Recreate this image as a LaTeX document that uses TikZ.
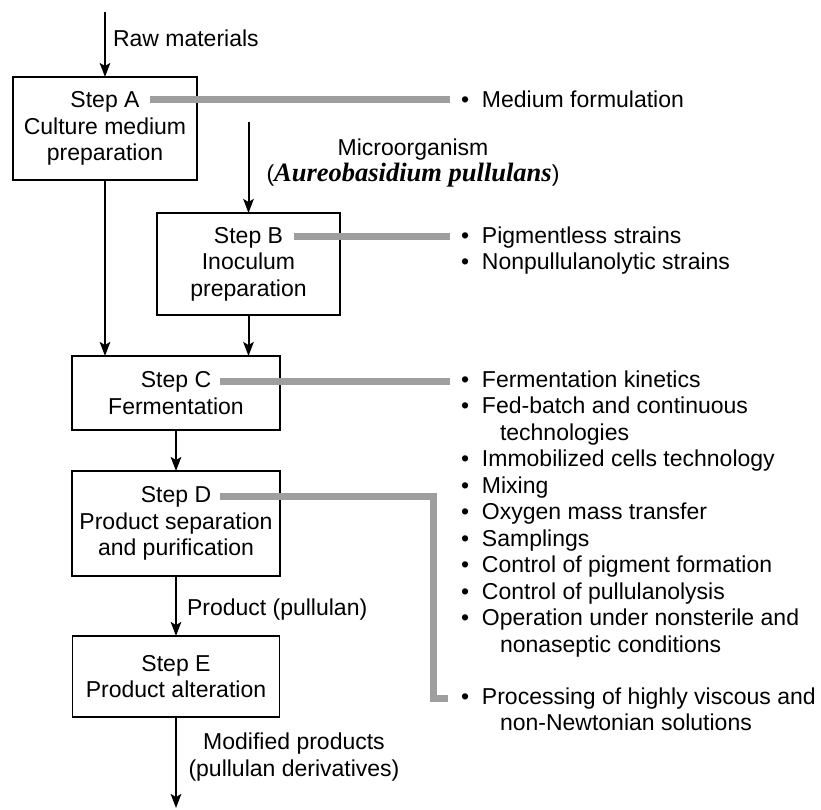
\documentclass[tikz,border=0pt]{standalone}
\usepackage{fontspec}
\setmainfont{Liberation Sans}
\newfontfamily\timesbi{Liberation Serif}
\usetikzlibrary{arrows.meta}
\definecolor{linkgrey}{RGB}{158,158,158}
\newcommand\bul{\makebox[21pt][l]{•}}
\newcommand\cnt{\makebox[39pt]{}}
\begin{document}
\begin{tikzpicture}[x=1pt,y=-1pt,
  every node/.style={font=\fontsize{23}{26.5}\selectfont, inner sep=0pt, outer sep=0pt},
  stepbox/.style={draw, line width=1.4pt, align=center},
  flow/.style={line width=2pt, -{Stealth[length=14pt,width=10.5pt,inset=3pt]}},
  link/.style={draw=linkgrey, line width=7pt},
  itemlist/.style={anchor=base west, align=left}]
\useasboundingbox (0,0) rectangle (821,810);

% step boxes
\node[stepbox, minimum width=184pt, minimum height=103pt] (A) at (105,128.5) {Step A\\Culture medium\\preparation};
\node[stepbox, minimum width=183pt, minimum height=102pt] (B) at (248.5,264) {Step B\\Inoculum\\preparation};
\node[stepbox, minimum width=208pt, minimum height=74pt] (C) at (176,393) {Step C\\Fermentation};
\node[stepbox, minimum width=208pt, minimum height=105pt] (D) at (176,523.5) {Step D\\Product separation\\and purification};
\node[stepbox, minimum width=207pt, minimum height=81pt] (E) at (176,676.5) {Step E\\Product alteration};

% free ends
\coordinate (in) at (105,12);
\coordinate (mo) at (248.5,122);
\coordinate (out) at (176,808);

% flow arrows
\draw[flow] (in) -- (A.north);
\draw[flow] (A.south) -- (A.south |- C.north);
\draw[flow] (mo) -- (B.north);
\draw[flow] (B.south) -- (B.south |- C.north);
\draw[flow] (C.south) -- (D.north);
\draw[flow] (D.south) -- (E.north);
\draw[flow] (E.south) -- (out);

% arrow labels
\node[anchor=base west] (raw) at (113,47) {Raw materials};
\node[align=center] (micro) at (413,163) {Microorganism\\({\timesbi\fontsize{26.5}{26.5}\selectfont\bfseries\itshape Aureobasidium pullulans})};
\node[anchor=base west] (prod) at (187,615) {Product (pullulan)};
\node[align=center] (mod) at (294,757) {Modified products\\(pullulan derivatives)};

% bullet lists (base = baseline of last line)
\node[itemlist] (LA) at (461,108) {\bul Medium formulation};
\node[itemlist] (LB) at (461,269.5) {\bul Pigmentless strains\\\bul Nonpullulanolytic strains};
\node[itemlist] (LC) at (461,652) {\bul Fermentation kinetics\\
\bul Fed-batch and continuous\\
\cnt technologies\\
\bul Immobilized cells technology\\
\bul Mixing\\
\bul Oxygen mass transfer\\
\bul Samplings\\
\bul Control of pigment formation\\
\bul Control of pullulanolysis\\
\bul Operation under nonsterile and\\
\cnt nonaseptic conditions};
\node[itemlist] (LD) at (461,730.5) {\bul Processing of highly viscous and\\\cnt non-Newtonian solutions};

% grey leader lines
\coordinate (sA) at (150,100);
\coordinate (sB) at (294,237);
\coordinate (sC) at (220,381);
\coordinate (sD) at (220,496);
\coordinate (kD) at (433,698);
\draw[link, shorten >=11pt] (sA) -- (sA -| LA.west);
\draw[link, shorten >=11pt] (sB) -- (sB -| LB.west);
\draw[link, shorten >=11pt] (sC) -- (sC -| LC.west);
\draw[link, shorten >=13pt] (sD) -| (kD) -- (kD -| LD.west);
\end{tikzpicture}
\end{document}
